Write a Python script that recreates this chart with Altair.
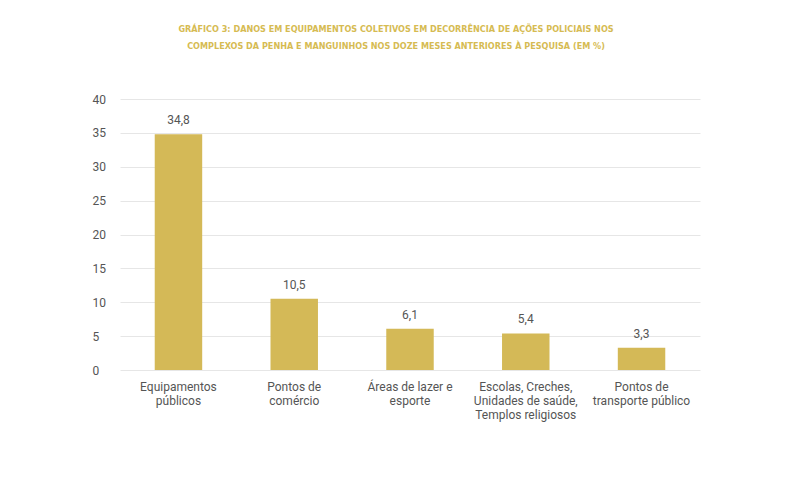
import altair as alt
import pandas as pd

# Categories and percentages
categories = [
    "Equipamentos públicos",
    "Pontos de comércio",
    "Áreas de lazer e esporte",
    "Escolas, Creches, Unidades de saúde, Templos religiosos",
    "Pontos de transporte público",
]
label_lines = [
    ["Equipamentos", "públicos"],
    ["Pontos de", "comércio"],
    ["Áreas de lazer e", "esporte"],
    ["Escolas, Creches,", "Unidades de saúde,", "Templos religiosos"],
    ["Pontos de", "transporte público"],
]
values = [34.8, 10.5, 6.1, 5.4, 3.3]
value_text = ["34,8", "10,5", "6,1", "5,4", "3,3"]
y_ticks = [0, 5, 10, 15, 20, 25, 30, 35, 40]

df = pd.DataFrame({"cat": categories, "val": values, "txt": value_text})

GOLD = "#d4b957"
TEXT = "#555555"

label_expr = "{" + ", ".join(
    f"'{c}': [" + ", ".join(f"'{l}'" for l in lines) + "]"
    for c, lines in zip(categories, label_lines)
) + "}[datum.value]"

x = alt.X(
    "cat:N",
    sort=categories,
    scale=alt.Scale(paddingInner=0.59, paddingOuter=0.3),
    axis=alt.Axis(
        title=None, labelAngle=0, domain=False, ticks=False,
        labelExpr=label_expr, labelFont="Roboto", labelFontSize=12,
        labelColor=TEXT, labelPadding=11, labelLineHeight=14,
        labelBaseline="top",
    ),
)
y = alt.Y(
    "val:Q",
    scale=alt.Scale(domain=[0, 40]),
    axis=alt.Axis(
        title=None, values=y_ticks, labelOverlap=False,
        domain=False, ticks=False, gridColor="#e6e6e6", gridWidth=1,
        labelFont="Roboto", labelFontSize=12, labelColor=TEXT,
        labelAlign="left", labelPadding=28,
    ),
)

base = alt.Chart(df).encode(x=x, y=y)
bars = base.mark_bar(color=GOLD)
labels = base.mark_text(
    dy=-14, font="Roboto", fontSize=12, color=TEXT
).encode(text="txt:N")

chart = (
    alt.layer(bars, labels)
    .properties(
        width=580,
        height=271,
        autosize=alt.AutoSizeParams(type="none"),
        padding={"left": 120, "top": 99, "right": 89, "bottom": 118},
        title=alt.TitleParams(
            text=[
                "GRÁFICO 3: DANOS EM EQUIPAMENTOS COLETIVOS EM DECORRÊNCIA DE AÇÕES POLICIAIS NOS",
                "COMPLEXOS DA PENHA E MANGUINHOS NOS DOZE MESES ANTERIORES À PESQUISA (EM %)",
            ],
            font="DejaVu Sans Condensed",
            fontSize=9,
            fontWeight="bold",
            color="#d6bb52",
            anchor="middle",
            dx=-14,
            offset=42,
            lineHeight=17,
        ),
    )
    .configure_view(stroke=None)
)

chart.save("out.html", embed_options={"renderer": "svg", "actions": False})
